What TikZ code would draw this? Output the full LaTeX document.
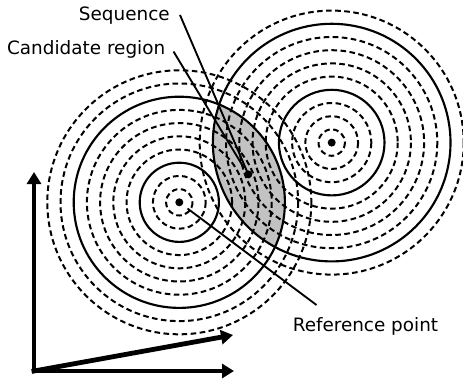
\documentclass[tikz,border=0pt]{standalone}
\usepackage{fontspec}
\setmainfont{DejaVu Sans}
\usetikzlibrary{arrows.meta}
\definecolor{lensgray}{RGB}{194,194,194}
\begin{document}
\begin{tikzpicture}[x=0.75pt,y=-0.75pt,
  solidring/.style={line width=1.6pt},
  dashring/.style={line width=1.5pt,dash pattern=on 4.2pt off 2.6pt},
  leader/.style={line width=1.4pt},
  axisarrow/.style={line width=3.6pt,line cap=rect,-{Triangle[length=9pt,width=10.5pt]}},
  dotnode/.style={circle,fill=black,inner sep=0pt,minimum size=6pt},
  lbl/.style={font=\fontsize{13.8pt}{16pt}\selectfont,inner sep=0pt}]
\useasboundingbox (0,0) rectangle (463,381);
\def\u{13.2}
\coordinate (L) at (179.3,202.3);
\coordinate (R) at (331.7,142.6);
% lens (candidate region)
\begin{scope}
  \clip (L) circle ({8*\u});
  \fill[lensgray] (R) circle ({9*\u});
\end{scope}
% left rings
\foreach \k in {1,2,4,5,6,7,9,10} \draw[dashring] (L) circle ({\k*\u});
\foreach \k in {3,8} \draw[solidring] (L) circle ({\k*\u});
% right rings
\foreach \k in {1,2,3,5,6,7,8,10} \draw[dashring] (R) circle ({\k*\u});
\foreach \k in {4,9} \draw[solidring] (R) circle ({\k*\u});
% dots
\node[dotnode] (ldot) at (L) {};
\node[dotnode] (rdot) at (R) {};
\node[dotnode] (sdot) at (248.3,174.4) {};
% labels
\node[lbl,anchor=base east] (seq) at (170,21) {Sequence};
\node[lbl,anchor=base east] (cand) at (165.5,55) {Candidate region};
\node[lbl,anchor=base west] (ref) at (292.5,331) {Reference point};
% leader lines
\coordinate (seqstart) at (180,15);
\coordinate (candstart) at (173.5,51.5);
\coordinate (candend) at (244,168);
\coordinate (refstart) at (187.5,208.5);
\coordinate (refend) at (316.5,305);
\draw[leader] (seqstart) -- (sdot.center);
\draw[leader] (candstart) -- (candend);
\draw[leader] (refstart) -- (refend);
% axes
\coordinate (O) at (34,371);
\coordinate (ytip) at (34,172);
\coordinate (xtip) at (234,371);
\coordinate (dtip) at (233,335);
\draw[axisarrow] (O) -- (ytip);
\draw[axisarrow] (O) -- (xtip);
\draw[axisarrow] (O) -- (dtip);
\end{tikzpicture}
\end{document}
